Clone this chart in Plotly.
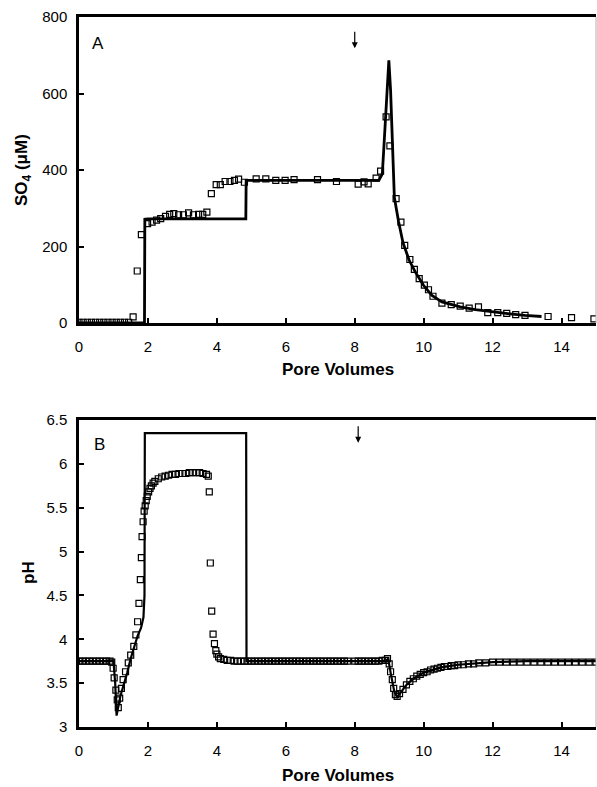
import plotly.graph_objects as go

# ---------------- Panel A : SO4 (uM) ----------------
so4_model_x = [0, 1.90, 1.91, 2.0, 4.84, 4.85, 8.70, 8.80, 8.84, 8.89, 8.95, 8.99,
               9.04, 9.09, 9.15, 9.27, 9.40, 9.58, 9.76, 10.0, 10.24, 10.53, 11.06,
               11.5, 11.97, 12.5, 12.94, 13.42]
so4_model_y = [0, 0, 271, 272, 272, 373, 373, 390, 451, 539, 640, 687,
               608, 478, 328, 266, 210, 164, 133, 98, 72, 55, 42,
               35, 29, 24, 20, 17]

so4_obs_x = [0, 0.12, 0.24, 0.36, 0.48, 0.60, 0.72, 0.84, 0.96, 1.08, 1.20, 1.32, 1.44,
             1.57, 1.69, 1.81, 1.99, 2.12, 2.25, 2.37, 2.51, 2.63, 2.75, 2.89, 3.03,
             3.18, 3.32, 3.47, 3.59, 3.71, 3.84, 3.98, 4.10, 4.24, 4.38, 4.51, 4.63,
             4.80, 5.14, 5.42, 5.71, 5.98, 6.24, 6.92, 7.47, 8.10, 8.27, 8.39, 8.62,
             8.75, 8.91, 9.02, 9.20, 9.34, 9.45, 9.60, 9.73, 9.87, 10.02, 10.14, 10.27,
             10.53, 10.80, 11.06, 11.32, 11.59, 11.86, 12.15, 12.41, 12.67, 12.94,
             13.61, 14.29, 14.94]
so4_obs_y = [2, 2, 2, 2, 2, 2, 2, 2, 2, 2, 2, 2, 2,
             16, 136, 231, 260, 264, 269, 273, 279, 284, 286, 283, 283,
             288, 283, 284, 284, 290, 338, 362, 362, 370, 370, 373, 376,
             368, 377, 377, 373, 373, 375, 375, 370, 363, 369, 364, 379,
             397, 539, 463, 325, 264, 203, 166, 140, 116, 99, 87, 70,
             52, 48, 44, 39, 42, 27, 27, 25, 22, 20,
             17, 14, 11]

# ---------------- Panel B : pH ----------------
ph_model_x = [0, 1.00, 1.05, 1.09, 1.20, 1.30, 1.40, 1.50, 1.60, 1.70, 1.80, 1.87,
              1.90, 1.91, 4.85, 4.86, 8.90, 8.97, 9.05, 9.15, 9.23, 9.35, 9.50,
              9.70, 10.0, 10.5, 11.0, 12.0, 13.0, 15.0]
ph_model_y = [3.75, 3.75, 3.50, 3.13, 3.35, 3.48, 3.62, 3.78, 3.92, 4.04, 4.13, 4.25,
              4.50, 6.35, 6.35, 3.75, 3.75, 3.78, 3.60, 3.40, 3.34, 3.40, 3.48,
              3.55, 3.62, 3.68, 3.71, 3.74, 3.75, 3.75]

ph_obs_x = [0, 0.1, 0.2, 0.3, 0.4, 0.5, 0.6, 0.7, 0.8, 0.9, 0.95,
            0.99, 1.02, 1.07, 1.11, 1.14, 1.18, 1.23, 1.28, 1.35, 1.43, 1.50, 1.59,
            1.65, 1.70, 1.74, 1.78, 1.81, 1.83, 1.86, 1.89,
            1.92, 1.95, 1.98, 2.02, 2.06, 2.10, 2.15, 2.20, 2.30, 2.40, 2.50, 2.60,
            2.70, 2.80, 2.90, 3.00, 3.10, 3.20, 3.30, 3.40, 3.50, 3.60, 3.70, 3.75,
            3.78, 3.81, 3.85, 3.89, 3.93, 3.97, 4.00, 4.05, 4.10, 4.20, 4.30, 4.40,
            4.5, 4.6, 4.7, 4.8, 4.9, 5.0, 5.1, 5.2, 5.3, 5.4, 5.5, 5.6, 5.7, 5.8,
            5.9, 6.0, 6.1, 6.2, 6.3, 6.4, 6.5, 6.6, 6.7, 6.8, 6.9, 7.0, 7.1, 7.2,
            7.3, 7.4, 7.5, 7.6, 7.7, 7.8, 8.0, 8.1, 8.2, 8.3, 8.4, 8.5, 8.6, 8.7,
            8.8, 8.9, 8.95, 9.00, 9.04, 9.09, 9.13, 9.18, 9.23, 9.30, 9.40, 9.50,
            9.60, 9.70, 9.80, 9.90, 10.0, 10.1, 10.2, 10.3, 10.4, 10.5, 10.6, 10.7,
            10.8, 10.9, 11.0, 11.15, 11.3, 11.45, 11.6, 11.8, 12.0, 12.2, 12.4, 12.6,
            12.8, 13.0, 13.2, 13.4, 13.6, 13.8, 14.0, 14.2, 14.4, 14.6, 14.8, 15.0]
ph_obs_y = [3.75, 3.75, 3.75, 3.75, 3.75, 3.75, 3.75, 3.75, 3.75, 3.75, 3.74,
            3.67, 3.56, 3.42, 3.31, 3.22, 3.33, 3.44, 3.54, 3.63, 3.73, 3.82, 3.92,
            4.05, 4.20, 4.41, 4.68, 4.93, 5.17, 5.34, 5.46,
            5.52, 5.58, 5.63, 5.68, 5.72, 5.75, 5.78, 5.80, 5.83, 5.85, 5.86, 5.87,
            5.88, 5.88, 5.89, 5.89, 5.89, 5.90, 5.90, 5.90, 5.90, 5.89, 5.88, 5.86,
            5.68, 4.87, 4.32, 4.06, 3.95, 3.87, 3.83, 3.80, 3.78, 3.77, 3.76, 3.76,
            3.75, 3.75, 3.75, 3.75, 3.75, 3.75, 3.75, 3.75, 3.75, 3.75, 3.75, 3.75, 3.75, 3.75,
            3.75, 3.75, 3.75, 3.75, 3.75, 3.75, 3.75, 3.75, 3.75, 3.75, 3.75, 3.75, 3.75, 3.75,
            3.75, 3.75, 3.75, 3.75, 3.75, 3.75, 3.75, 3.75, 3.75, 3.75, 3.75, 3.75, 3.75, 3.75,
            3.76, 3.76, 3.78, 3.72, 3.63, 3.54, 3.44, 3.37, 3.35, 3.38, 3.43, 3.48,
            3.52, 3.55, 3.58, 3.60, 3.62, 3.63, 3.65, 3.66, 3.67, 3.68, 3.69, 3.69,
            3.70, 3.70, 3.71, 3.71, 3.72, 3.72, 3.73, 3.73, 3.74, 3.74, 3.74, 3.74,
            3.74, 3.74, 3.74, 3.74, 3.74, 3.74, 3.74, 3.74, 3.74, 3.74, 3.74, 3.74]

x_ticks = [0, 2, 4, 6, 8, 10, 12, 14]
so4_ticks = [0, 200, 400, 600, 800]
ph_ticks = [3, 3.5, 4, 4.5, 5, 5.5, 6, 6.5]
ph_tick_text = ["3", "3.5", "4", "4.5", "5", "5.5", "6", "6.5"]

FONT = "Liberation Sans, Arial, sans-serif"
marker = dict(symbol="square-open", size=6, color="black", line=dict(width=1.2, color="black"))

fig = go.Figure()
fig.add_trace(go.Scatter(x=so4_obs_x, y=so4_obs_y, mode="markers", marker=marker,
                         xaxis="x", yaxis="y", showlegend=False))
fig.add_trace(go.Scatter(x=so4_model_x, y=so4_model_y, mode="lines",
                         line=dict(color="black", width=2.8), xaxis="x", yaxis="y",
                         showlegend=False))
fig.add_trace(go.Scatter(x=ph_obs_x, y=ph_obs_y, mode="markers", marker=marker,
                         xaxis="x2", yaxis="y2", showlegend=False))
fig.add_trace(go.Scatter(x=ph_model_x, y=ph_model_y, mode="lines",
                         line=dict(color="black", width=2.2), xaxis="x2", yaxis="y2",
                         showlegend=False))

axis_common = dict(showgrid=False, zeroline=False, showline=True, linecolor="black",
                   linewidth=2.5, ticks="inside", ticklen=5, tickwidth=1.5,
                   tickcolor="black", tickfont=dict(family=FONT, size=15, color="black"))

fig.update_layout(
    width=597, height=787,
    margin=dict(l=79, r=1, t=17, b=60),
    paper_bgcolor="white", plot_bgcolor="white",
    xaxis=dict(domain=[0, 1], range=[0, 15], tickvals=x_ticks, anchor="y", mirror=True,
               ticklabelstandoff=8, **axis_common),
    yaxis=dict(domain=[0.569, 1], range=[0, 800], tickvals=so4_ticks, anchor="x",
               ticklabelstandoff=6, **axis_common),
    xaxis2=dict(domain=[0, 1], range=[0, 15], tickvals=x_ticks, anchor="y2", mirror=True,
                ticklabelstandoff=8, **axis_common),
    yaxis2=dict(domain=[0, 0.4324], range=[3, 6.5], tickvals=ph_ticks,
                ticktext=ph_tick_text, anchor="x2", ticklabelstandoff=6, **axis_common),
)

title_font = dict(family=FONT, size=17, color="black")
fig.add_annotation(text="<b>Pore Volumes</b>", xref="paper", yref="paper", x=0.5,
                   y=(727 - 369) / 710, showarrow=False, font=title_font,
                   xanchor="center", yanchor="middle")
fig.add_annotation(text="<b>Pore Volumes</b>", xref="paper", yref="paper", x=0.5,
                   y=(727 - 776) / 710, showarrow=False, font=title_font,
                   xanchor="center", yanchor="middle")
fig.add_annotation(text="<b>SO<sub>4</sub> (μM)</b>", xref="paper", yref="paper",
                   x=(23 - 79) / 517, y=(727 - 170) / 710, textangle=-90,
                   showarrow=False, font=title_font, xanchor="center", yanchor="middle")
fig.add_annotation(text="<b>pH</b>", xref="paper", yref="paper",
                   x=(28 - 79) / 517, y=(727 - 573) / 710, textangle=-90,
                   showarrow=False, font=title_font, xanchor="center", yanchor="middle")

# panel letters
fig.add_annotation(text="A", xref="x domain", yref="y domain", x=(90 - 79) / 517,
                   y=(323 - 32) / 306, showarrow=False,
                   font=dict(family=FONT, size=17, color="black"))
fig.add_annotation(text="B", xref="x2 domain", yref="y2 domain", x=(92 - 79) / 517,
                   y=(727 - 433) / 307, showarrow=False,
                   font=dict(family=FONT, size=17, color="black"))

# arrows marking pore volume 8
fig.add_annotation(x=8, y=718, xref="x", yref="y", ax=0, ay=-18, text="",
                   showarrow=True, arrowhead=2, arrowsize=1, arrowwidth=1.2,
                   arrowcolor="black")
fig.add_annotation(x=8.1, y=6.24, xref="x2", yref="y2", ax=0, ay=-18, text="",
                   showarrow=True, arrowhead=2, arrowsize=1, arrowwidth=1.2,
                   arrowcolor="black")

# faint right frame edges
for xr, yr in (("x domain", "y domain"), ("x2 domain", "y2 domain")):
    fig.add_shape(type="line", xref=xr, yref=yr, x0=1, x1=1, y0=0, y1=1,
                  line=dict(color="#b0b0b0", width=1))

fig.write_html("out.html", config={"displayModeBar": False},
               post_script="document.body.style.margin='0';document.body.style.overflow='hidden';")
